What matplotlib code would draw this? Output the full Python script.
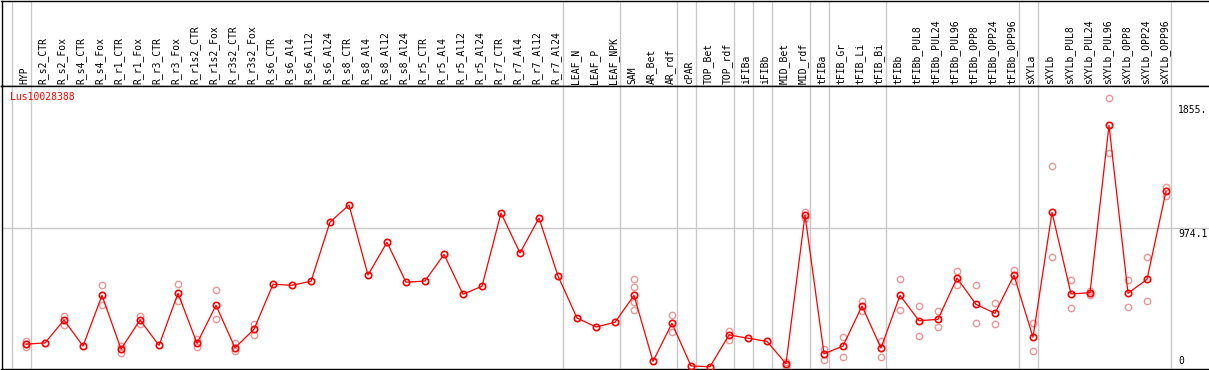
import matplotlib
matplotlib.use("Agg")
from matplotlib import pyplot as plt

# sample names, left to right
samples = ['HYP', 'R_s2_CTR', 'R_s2_Fox', 'R_s4_CTR', 'R_s4_Fox', 'R_r1_CTR', 'R_r1_Fox',
           'R_r3_CTR', 'R_r3_Fox', 'R_r1s2_CTR', 'R_r1s2_Fox', 'R_r3s2_CTR', 'R_r3s2_Fox',
           'R_s6_CTR', 'R_s6_Al4', 'R_s6_Al12', 'R_s6_Al24', 'R_s8_CTR', 'R_s8_Al4',
           'R_s8_Al12', 'R_s8_Al24', 'R_r5_CTR', 'R_r5_Al4', 'R_r5_Al12', 'R_r5_Al24',
           'R_r7_CTR', 'R_r7_Al4', 'R_r7_Al12', 'R_r7_Al24', 'LEAF_N', 'LEAF_P', 'LEAF_NPK',
           'SAM', 'AR_Bet', 'AR_rdf', 'cPAR', 'TOP_Bet', 'TOP_rdf', 'iFIBa', 'iFIBb',
           'MID_Bet', 'MID_rdf', 'tFIBa', 'tFIB_Gr', 'tFIB_Li', 'tFIB_Bi', 'tFIBb',
           'tFIBb_PUL8', 'tFIBb_PUL24', 'tFIBb_PUL96', 'tFIBb_OPP8', 'tFIBb_OPP24',
           'tFIBb_OPP96', 'sXYLa', 'sXYLb', 'sXYLb_PUL8', 'sXYLb_PUL24', 'sXYLb_PUL96',
           'sXYLb_OPP8', 'sXYLb_OPP24', 'sXYLb_OPP96']

# mean expression per sample
means = [161, 169, 330, 147, 503, 126, 330, 152, 518, 166, 433, 135, 265,
         581, 574, 602, 1018, 1138, 646, 876, 595, 604, 791, 511, 567,
         1081, 801, 1046, 639, 344, 281, 314,
         503, 40, 307, 7, 2, 225, 202, 180,
         23, 1067, 93, 147, 428, 133, 503,
         325, 335, 625, 440, 377, 644,
         209, 1086, 513, 522, 1697, 518, 616, 1234]

# individual replicates (empty where they sit on the mean)
replicates = [[185, 160, 138], [], [360, 295], [], [574, 433], [150, 100], [360, 302],
              [], [583, 461], [194, 143], [541, 335], [166, 112], [302, 225],
              [], [], [], [], [], [], [], [], [], [], [], [],
              [], [], [], [], [], [], [],
              [618, 560, 454, 400], [], [365, 248], [], [], [255, 190], [], [],
              [37, 7], [1086, 1048], [124, 49], [209, 68], [466, 393], [185, 72], [616, 400],
              [426, 218], [393, 283], [674, 574], [574, 307], [447, 300], [681, 606],
              [311, 110], [1409, 770], [609, 412], [532, 503], [1887, 1505], [609, 419],
              [772, 463], [1266, 1201]]

# last sample index of each tissue group (separators drawn after these)
group_ends = [-1, 0, 28, 31, 34, 35, 37, 38, 39, 41, 42, 45, 52, 53, 60]

gene = 'Lus10028388'
y_labels = ['1855.', '974.1', '0']
y_label_vals = [1855, 974.1, 0]

W, H = 1209, 370
fig = plt.figure(figsize=(W / 100, H / 100), dpi=100)
fig.patch.set_facecolor('white')

mono = 'DejaVu Sans Mono'
red = '#ff0000'
pink = '#f09696'
grey = '#c8c8c8'

# pixel layout: sample i sits at x = 26 + 19 * i
x0, dx = 26.0, 19.0
left_px, right_px = 1.5, 1209.0
xlim = ((left_px - x0) / dx, (right_px - x0) / dx)
zero_px, px_per_unit = 367.0, 0.14239
sep_px, bottom_px = 85.5, 369.0
ylim = ((zero_px - bottom_px) / px_per_unit, (zero_px - sep_px) / px_per_unit)

head = fig.add_axes([left_px / W, (H - sep_px) / H, (right_px - left_px) / W,
                     (sep_px - 0.5) / H])
ax = fig.add_axes([left_px / W, (H - bottom_px) / H, (right_px - left_px) / W,
                   (bottom_px - sep_px) / H])

for a in (head, ax):
    a.set_xlim(*xlim)
    a.set_xticks([])
    a.set_yticks([])
    for s in a.spines.values():
        s.set_linewidth(1.0)
        s.set_color('black')
    a.spines['right'].set_visible(False)
    for g in group_ends:
        a.axvline(g + 0.25, color=grey, lw=1.0, zorder=0)

head.set_ylim(85, 0)
for i, name in enumerate(samples):
    head.text(i - 0.1, 83.5, name, rotation=90, ha='center', va='bottom',
              family=mono, fontsize=7, color='black')

ax.set_ylim(*ylim)
ax.axhline(974.1, color=grey, lw=1.0, zorder=0)

xs = list(range(len(samples)))
for i, reps in enumerate(replicates):
    if reps:
        ax.plot([i] * len(reps), reps, 'o', ms=4.6, mfc='none', mec=pink, mew=1.0,
                zorder=2, clip_on=False)
ax.plot(xs, means, '-', color=red, lw=0.9, zorder=3)
ax.plot(xs, means, 'o', ms=4.6, mfc='none', mec=red, mew=1.2, zorder=4)

ax.text((10 - x0) / dx, (zero_px - 92) / px_per_unit, gene, color=red, family=mono,
        fontsize=7, ha='left', va='top')

lab_x = (1178 - x0) / dx
ax.text(lab_x, y_label_vals[0] - 2 / px_per_unit, y_labels[0], family=mono, fontsize=7,
        ha='left', va='top')
ax.text(lab_x, y_label_vals[1] - 0.5 / px_per_unit, y_labels[1], family=mono, fontsize=7,
        ha='left', va='top')
ax.text(lab_x, y_label_vals[2] + 1.5 / px_per_unit, y_labels[2], family=mono, fontsize=7,
        ha='left', va='bottom')

fig.savefig('out.png', dpi=100, facecolor='white')
